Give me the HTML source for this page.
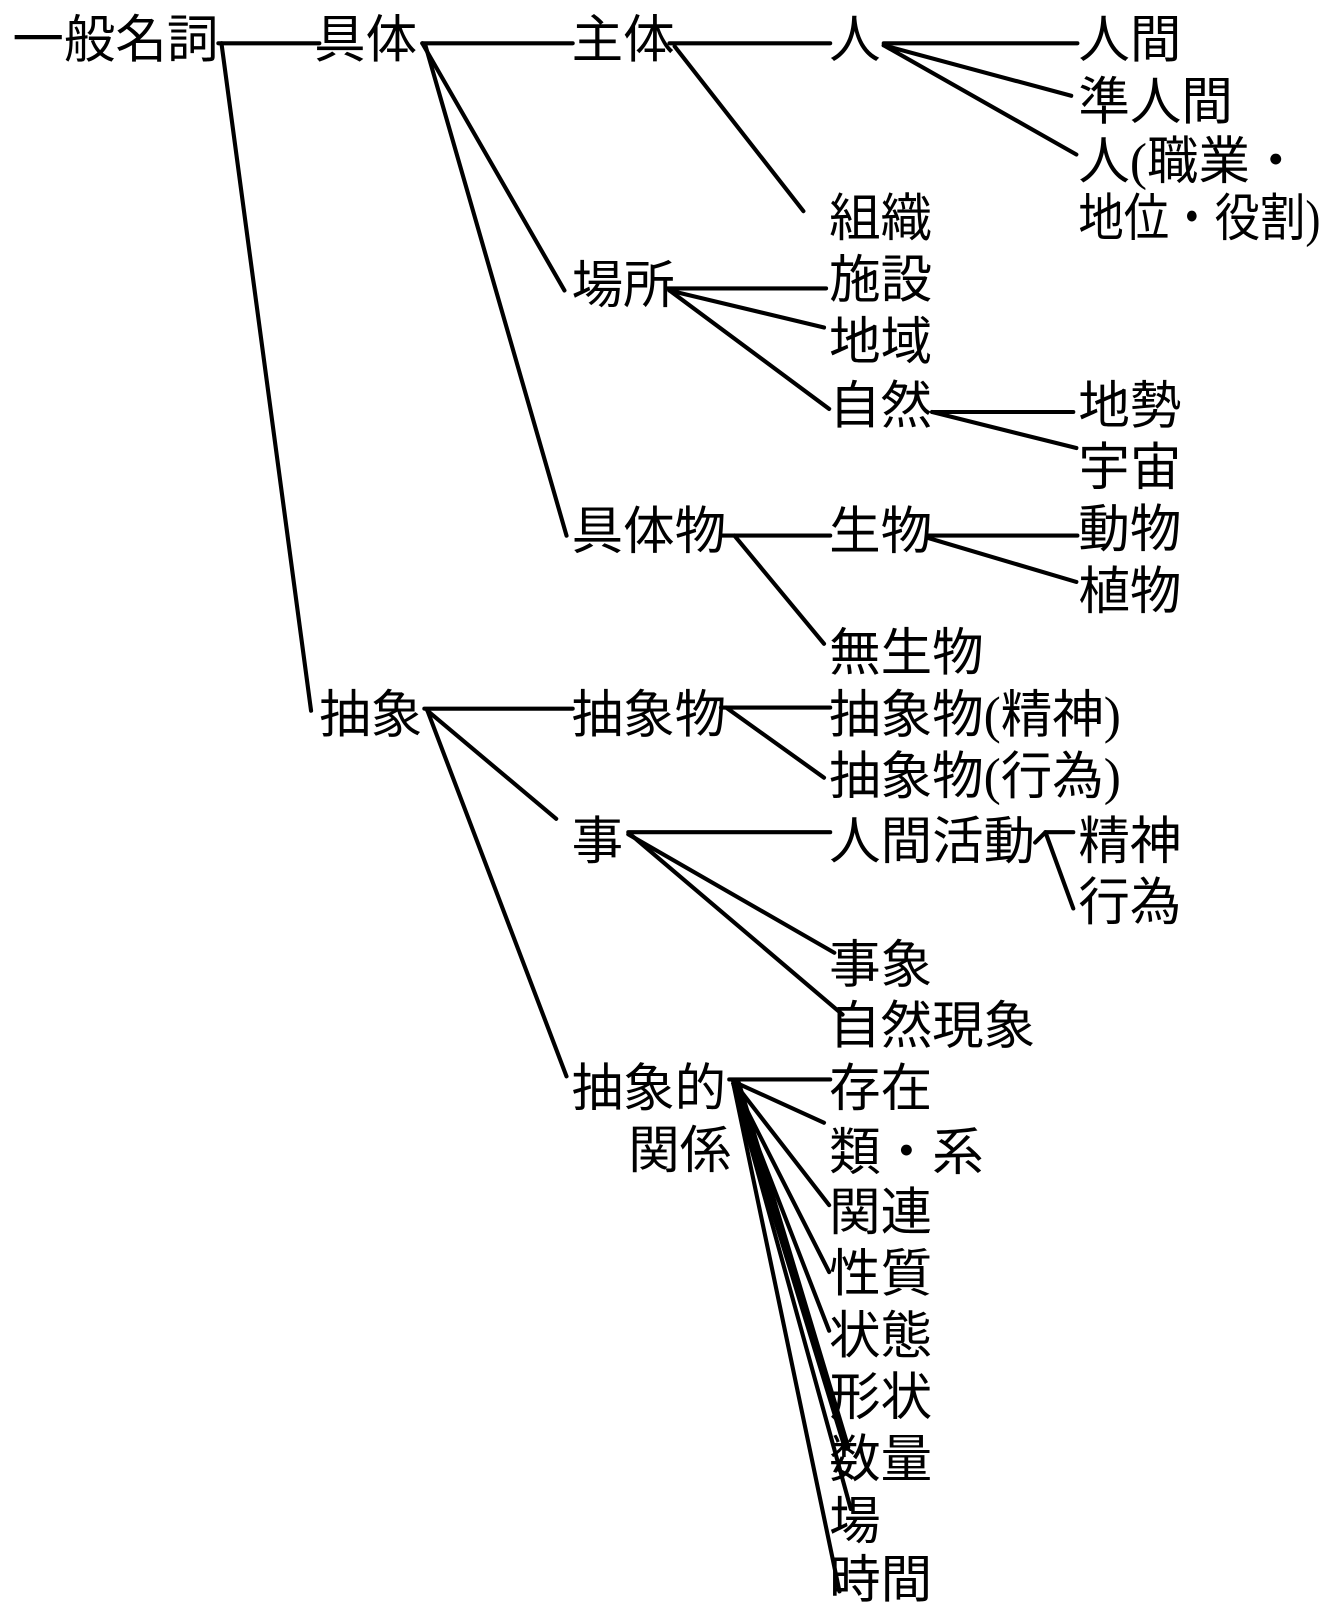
<!DOCTYPE html>
<html><head><meta charset="utf-8"><style>
html,body{margin:0;padding:0;background:#fff;}
svg{display:block;}
text{font-family:"Liberation Serif","Noto Sans CJK JP",sans-serif;font-size:50px;fill:#000;dominant-baseline:central;}
line,polyline{stroke:#000;stroke-width:4;fill:none;stroke-linecap:round;}
</style></head><body>
<svg width="1342" height="1612" viewBox="0 0 1342 1612" xmlns="http://www.w3.org/2000/svg">
<g transform="scale(1.03)">
<text x="12" y="40">一般名詞</text>
<text x="305" y="40">具体</text>
<text x="555" y="40">主体</text>
<text x="805" y="40">人</text>
<text x="1047" y="40">人間</text>
<text x="1047" y="100">準人間</text>
<text x="1047" y="158">人(職業・</text>
<text x="805" y="213">組織</text>
<text x="1047" y="213" textLength="235" lengthAdjust="spacingAndGlyphs">地位・役割)</text>
<text x="555" y="278">場所</text>
<text x="805" y="273">施設</text>
<text x="805" y="333">地域</text>
<text x="805" y="395">自然</text>
<text x="1047" y="395">地勢</text>
<text x="1047" y="455">宇宙</text>
<text x="555" y="517">具体物</text>
<text x="805" y="517">生物</text>
<text x="1047" y="515">動物</text>
<text x="1047" y="575">植物</text>
<text x="805" y="635">無生物</text>
<text x="310" y="695">抽象</text>
<text x="555" y="695">抽象物</text>
<text x="805" y="695">抽象物(精神)</text>
<text x="805" y="755">抽象物(行為)</text>
<text x="555" y="818">事</text>
<text x="805" y="818">人間活動</text>
<text x="1047" y="818">精神</text>
<text x="1047" y="877">行為</text>
<text x="805" y="938">事象</text>
<text x="805" y="997">自然現象</text>
<text x="555" y="1058">抽象的</text>
<text x="610" y="1118">関係</text>
<text x="805" y="1058">存在</text>
<text x="805" y="1120">類・系</text>
<text x="805" y="1178">関連</text>
<text x="805" y="1238">性質</text>
<text x="805" y="1298">状態</text>
<text x="805" y="1358">形状</text>
<text x="805" y="1418">数量</text>
<text x="805" y="1478">場</text>
<text x="805" y="1535">時間</text>
<line x1="212" y1="42" x2="310" y2="42"/>
<line x1="215" y1="42" x2="302" y2="690"/>
<line x1="410" y1="42" x2="556" y2="42"/>
<line x1="410" y1="42" x2="548" y2="282"/>
<line x1="413" y1="44" x2="550" y2="520"/>
<line x1="650" y1="42" x2="806" y2="42"/>
<line x1="655" y1="45" x2="780" y2="205"/>
<line x1="858" y1="42" x2="1046" y2="42"/>
<line x1="858" y1="44" x2="1040" y2="93"/>
<line x1="858" y1="44" x2="1045" y2="150"/>
<line x1="648" y1="280" x2="802" y2="280"/>
<line x1="650" y1="282" x2="800" y2="318"/>
<line x1="650" y1="282" x2="805" y2="397"/>
<line x1="905" y1="400" x2="1042" y2="400"/>
<line x1="905" y1="400" x2="1045" y2="435"/>
<line x1="700" y1="520" x2="806" y2="520"/>
<line x1="713" y1="520" x2="800" y2="625"/>
<line x1="900" y1="520" x2="1046" y2="520"/>
<line x1="900" y1="522" x2="1045" y2="565"/>
<line x1="412" y1="688" x2="556" y2="688"/>
<line x1="415" y1="690" x2="540" y2="795"/>
<line x1="415" y1="690" x2="550" y2="1045"/>
<line x1="700" y1="687" x2="806" y2="687"/>
<line x1="705" y1="687" x2="800" y2="755"/>
<line x1="610" y1="808" x2="806" y2="808"/>
<line x1="610" y1="810" x2="810" y2="925"/>
<line x1="612" y1="810" x2="818" y2="985"/>
<polyline points="1005,818 1015,808 1042,808"/>
<line x1="1015" y1="808" x2="1042" y2="882"/>
<line x1="708" y1="1048" x2="806" y2="1048"/>
<line x1="712" y1="1050" x2="800" y2="1090"/>
<line x1="712" y1="1050" x2="805" y2="1170"/>
<line x1="712" y1="1052" x2="805" y2="1235"/>
<line x1="712" y1="1052" x2="805" y2="1292"/>
<line x1="712" y1="1052" x2="806" y2="1350"/>
<line x1="712" y1="1052" x2="820" y2="1405"/>
<line x1="712" y1="1052" x2="826" y2="1465"/>
<line x1="712" y1="1052" x2="815" y2="1545"/>
<line x1="716" y1="1052" x2="822" y2="1405" style="stroke-width:7"/>
</g>
</svg>
</body></html>
